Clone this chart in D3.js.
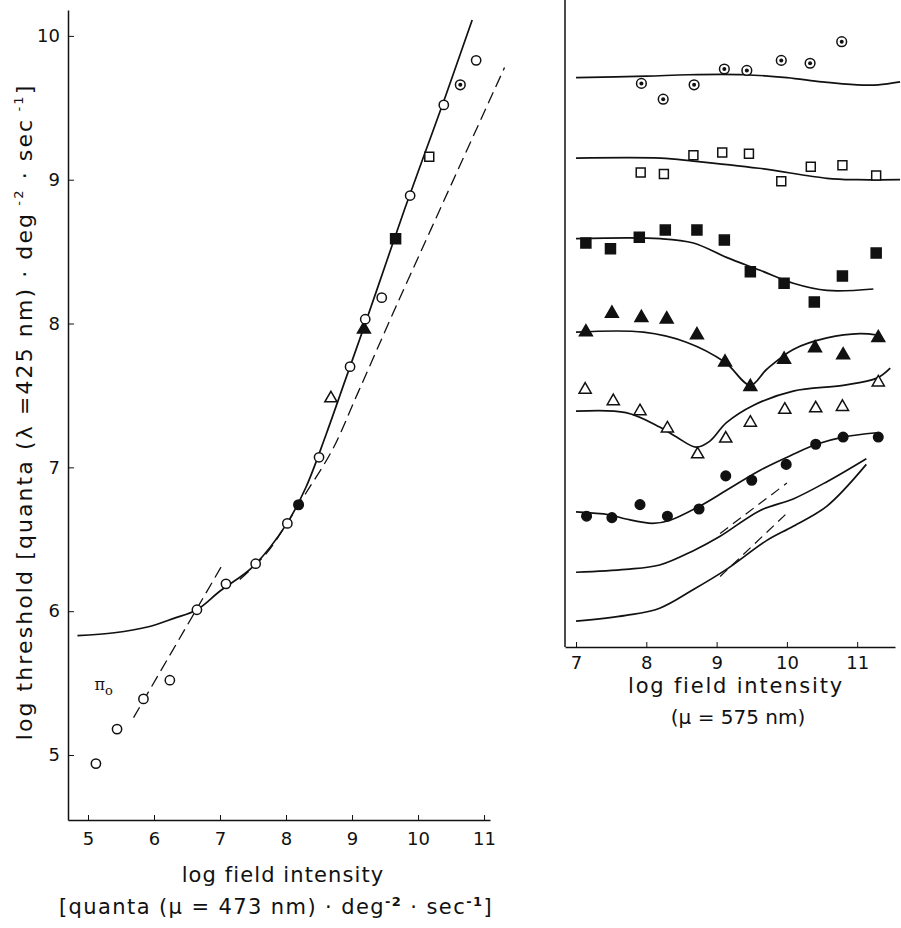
<!DOCTYPE html>
<html>
<head>
<meta charset="utf-8">
<script src="https://cdn.jsdelivr.net/npm/d3@7"></script>
<style>
  body { margin: 0; background: #fff; }
  svg { font-family: "DejaVu Sans", "Liberation Sans", Arial, sans-serif; }
</style>
</head>
<body>
<script>
// ---- data ----
const leftTicksX = [5, 6, 7, 8, 9, 10, 11];
const leftTicksY = [5, 6, 7, 8, 9, 10];
const rightTicksX = [7, 8, 9, 10, 11];

// left panel: measured thresholds (mark = which field condition)
const leftX = [5.12, 5.44, 5.84, 6.24, 6.65, 7.09, 7.54, 8.02, 8.19, 8.50, 8.68, 8.97, 9.18, 9.20, 9.45, 9.66, 9.88, 10.17, 10.39, 10.64, 10.88];
const leftY = [4.94, 5.18, 5.39, 5.52, 6.01, 6.19, 6.33, 6.61, 6.74, 7.07, 7.48, 7.70, 7.96, 8.03, 8.18, 8.59, 8.89, 9.16, 9.52, 9.66, 9.83];
const leftMark = ["circle", "circle", "circle", "circle", "circle", "circle", "circle", "circle", "disc", "circle", "tri",
  "circle", "ftri", "circle", "circle", "fsquare", "circle", "square", "circle", "dotcircle", "circle"];

// left panel: fitted curve, Weber asymptote and pi0 branch
const leftCurve = [[4.84, 5.83], [5.4, 5.85], [5.9, 5.89], [6.3, 5.95], [6.65, 6.01], [7.0, 6.14], [7.5, 6.31],
  [8.0, 6.60], [8.3, 6.86], [8.6, 7.22], [8.9, 7.61], [9.2, 8.0], [9.5, 8.4], [9.8, 8.8], [10.1, 9.18], [10.4, 9.56], [10.82, 10.11]];
const leftDashed = [[7.3, 6.22], [7.7, 6.40], [8.0, 6.60], [8.3, 6.82], [8.7, 7.12], [9.1, 7.53], [9.6, 8.05], [10.2, 8.66], [11.31, 9.78]];
const leftPiLine = [[5.69, 5.26], [7.02, 6.31]];

// right panel: six data series, offset vertically (arbitrary log units)
const rightSeriesMark = ["dotcircle", "square", "fsquare", "ftri", "tri", "disc"];
const rightSeriesX = [
  [7.93, 8.24, 8.68, 9.11, 9.43, 9.92, 10.33, 10.78],
  [7.92, 8.25, 8.67, 9.08, 9.46, 9.92, 10.34, 10.79, 11.27],
  [7.14, 7.49, 7.90, 8.27, 8.72, 9.11, 9.48, 9.96, 10.39, 10.79, 11.27],
  [7.14, 7.51, 7.93, 8.29, 8.72, 9.12, 9.48, 9.96, 10.40, 10.80, 11.30],
  [7.13, 7.53, 7.91, 8.30, 8.73, 9.13, 9.48, 9.97, 10.41, 10.79, 11.30],
  [7.15, 7.51, 7.91, 8.30, 8.75, 9.13, 9.50, 9.99, 10.41, 10.80, 11.30]
];
const rightSeriesY = [
  [3.92, 3.81, 3.91, 4.02, 4.01, 4.08, 4.06, 4.21],
  [3.30, 3.29, 3.42, 3.44, 3.43, 3.24, 3.34, 3.35, 3.28],
  [2.81, 2.77, 2.85, 2.90, 2.90, 2.83, 2.61, 2.53, 2.40, 2.58, 2.74],
  [2.19, 2.32, 2.29, 2.28, 2.17, 1.98, 1.81, 2.00, 2.08, 2.03, 2.15],
  [1.79, 1.71, 1.64, 1.52, 1.34, 1.45, 1.56, 1.65, 1.66, 1.67, 1.84],
  [0.91, 0.90, 0.99, 0.91, 0.96, 1.19, 1.16, 1.27, 1.41, 1.46, 1.46]
];
const rightCurves = [
  [[7.0, 3.96], [8.0, 3.97], [8.6, 3.98], [9.4, 3.98], [10.0, 3.96], [10.5, 3.93], [11.0, 3.91], [11.3, 3.91], [11.61, 3.93]],
  [[7.0, 3.40], [8.2, 3.40], [8.67, 3.38], [9.6, 3.33], [10.57, 3.26], [11.0, 3.25], [11.61, 3.25]],
  [[7.0, 2.84], [8.2, 2.84], [8.67, 2.81], [9.14, 2.71], [9.62, 2.62], [10.09, 2.53], [10.57, 2.48], [11.23, 2.49]],
  [[7.0, 2.19], [7.96, 2.19], [8.57, 2.12], [9.12, 1.98], [9.48, 1.82], [9.71, 1.93], [10.09, 2.07], [10.57, 2.15], [11.04, 2.18], [11.28, 2.17]],
  [[7.0, 1.64], [7.71, 1.63], [8.19, 1.53], [8.43, 1.46], [8.71, 1.39], [8.9, 1.43], [9.14, 1.56], [9.52, 1.68], [10.09, 1.78], [10.8, 1.82], [11.28, 1.87], [11.47, 1.94]],
  [[7.0, 0.94], [7.47, 0.92], [7.71, 0.89], [8.09, 0.86], [8.33, 0.88], [8.76, 0.98], [9.14, 1.09], [9.62, 1.23], [10.09, 1.34], [10.42, 1.41], [10.8, 1.46], [11.28, 1.49]],
  [[7.0, 0.52], [7.71, 0.54], [8.19, 0.57], [8.67, 0.67], [9.05, 0.77], [9.62, 0.95], [10.09, 1.03], [10.57, 1.15], [11.13, 1.31]],
  [[7.0, 0.18], [7.71, 0.22], [8.19, 0.27], [8.67, 0.40], [9.14, 0.54], [9.71, 0.74], [10.09, 0.84], [10.57, 0.98], [11.13, 1.27]]
];
const rightDashed = [
  [[9.05, 0.79], [10.0, 1.14]],
  [[9.05, 0.49], [10.02, 0.94]]
];

// ---- drawing ----
const W = 901, H = 928;
const svg = d3.select("body").append("svg")
  .attr("width", W)
  .attr("height", H);

// scales (ranges are the pixel frame of each panel)
const xL = d3.scaleLinear().domain([4.697, 11.09]).range([68, 490]);
const yL = d3.scaleLinear().domain([4.548, 10.18]).range([820, 10]);
const xR = d3.scaleLinear().domain([6.843, 11.538]).range([565, 895]);
const yR = d3.scaleLinear().domain([0, 4.5]).range([647, 0]);

const symbolOf = {
  circle: d3.symbol(d3.symbolCircle, 68),
  disc: d3.symbol(d3.symbolCircle, 72),
  dotcircle: d3.symbol(d3.symbolCircle, 74),
  square: d3.symbol(d3.symbolSquare, 80),
  fsquare: d3.symbol(d3.symbolSquare, 100),
  tri: d3.symbol(d3.symbolTriangle, 64),
  ftri: d3.symbol(d3.symbolTriangle, 72)
};
const filled = { disc: true, fsquare: true, ftri: true };

function drawMarks(g, pts) {
  const m = g.selectAll(null).data(pts).enter().append("g")
    .attr("transform", d => `translate(${d.x},${d.y})`);
  m.append("path")
    .attr("d", d => symbolOf[d.mark]())
    .attr("fill", d => filled[d.mark] ? "#111" : "#fff")
    .attr("stroke", "#111")
    .attr("stroke-width", 1.5);
  m.filter(d => d.mark === "dotcircle").append("circle")
    .attr("r", 2)
    .attr("fill", "#111");
}

const line = (xs, ys, curve) => d3.line()
  .x(d => xs(d[0]))
  .y(d => ys(d[1]))
  .curve(curve || d3.curveCatmullRom.alpha(0.5));

const fmt = d3.format("d");

// left panel axes
const left = svg.append("g");
left.append("g")
  .attr("transform", "translate(0,820)")
  .call(d3.axisBottom(xL).tickValues(leftTicksX).tickFormat(fmt).tickSizeInner(-5).tickSizeOuter(0).tickPadding(12))
  .call(g => g.selectAll("text").attr("font-size", 18).attr("font-family", "DejaVu Sans").attr("fill", "#111"));
left.append("g")
  .attr("transform", "translate(68,0)")
  .call(d3.axisLeft(yL).tickValues(leftTicksY).tickFormat(fmt).tickSizeInner(-6).tickSizeOuter(0).tickPadding(8))
  .call(g => g.selectAll("text").attr("font-size", 18).attr("font-family", "DejaVu Sans").attr("fill", "#111"));
left.selectAll(".domain").attr("stroke", "#111").attr("stroke-width", 1.5);
left.selectAll(".tick line").attr("stroke", "#111");

left.append("path")
  .attr("d", line(xL, yL)(leftCurve))
  .attr("fill", "none").attr("stroke", "#111").attr("stroke-width", 1.7);
left.append("path")
  .attr("d", line(xL, yL)(leftDashed))
  .attr("fill", "none").attr("stroke", "#111").attr("stroke-width", 1.3)
  .attr("stroke-dasharray", "12,6");
left.append("path")
  .attr("d", line(xL, yL, d3.curveLinear)(leftPiLine))
  .attr("fill", "none").attr("stroke", "#111").attr("stroke-width", 1.3)
  .attr("stroke-dasharray", "12,6");

drawMarks(left, leftX.map((v, i) => ({ x: xL(v), y: yL(leftY[i]), mark: leftMark[i] })));

const pi = left.append("text")
  .attr("x", xL(5.1)).attr("y", yL(5.45))
  .attr("font-family", "DejaVu Serif, serif")
  .attr("font-size", 16).attr("fill", "#111")
  .text("π");
pi.append("tspan").attr("dy", 5).attr("font-size", 13).text("o");

// left axis titles
left.append("text")
  .attr("x", 283).attr("y", 882)
  .attr("text-anchor", "middle").attr("font-size", 21).attr("letter-spacing", 1.1).attr("fill", "#111")
  .text("log field intensity");
const xt2 = left.append("text")
  .attr("x", 276).attr("y", 914)
  .attr("text-anchor", "middle").attr("font-size", 21).attr("letter-spacing", 1.4).attr("fill", "#111");
xt2.append("tspan").text("[quanta (μ = 473 nm) · deg");
xt2.append("tspan").attr("dy", -8).attr("font-size", 13).attr("font-weight", "bold").text("-2");
xt2.append("tspan").attr("dy", 8).text(" · sec");
xt2.append("tspan").attr("dy", -8).attr("font-size", 13).attr("font-weight", "bold").text("-1");
xt2.append("tspan").attr("dy", 8).text("]");

const yt = left.append("text")
  .attr("transform", "translate(32,412) rotate(-90)")
  .attr("text-anchor", "middle").attr("font-size", 22).attr("letter-spacing", 2.1).attr("fill", "#111");
yt.append("tspan").text("log threshold [quanta (λ =425 nm) · deg");
yt.append("tspan").attr("dy", -9).attr("font-size", 13).text(" -2");
yt.append("tspan").attr("dy", 9).text(" · sec");
yt.append("tspan").attr("dy", -9).attr("font-size", 13).text(" -1");
yt.append("tspan").attr("dy", 9).text("]");

// right panel
const right = svg.append("g");
right.append("g")
  .attr("transform", "translate(0,647)")
  .call(d3.axisBottom(xR).tickValues(rightTicksX).tickFormat(fmt).tickSizeInner(-5).tickSizeOuter(0).tickPadding(9))
  .call(g => g.selectAll("text").attr("font-size", 18).attr("font-family", "DejaVu Sans").attr("fill", "#111"));
right.append("line")
  .attr("x1", xR.range()[0]).attr("x2", xR.range()[0])
  .attr("y1", yR.range()[0]).attr("y2", yR.range()[1])
  .attr("stroke", "#111").attr("stroke-width", 1.5);
right.selectAll(".domain").attr("stroke", "#111").attr("stroke-width", 1.5);
right.selectAll(".tick line").attr("stroke", "#111");

rightCurves.forEach(c => {
  right.append("path")
    .attr("d", line(xR, yR)(c))
    .attr("fill", "none").attr("stroke", "#111").attr("stroke-width", 1.7);
});
rightDashed.forEach(c => {
  right.append("path")
    .attr("d", line(xR, yR, d3.curveLinear)(c))
    .attr("fill", "none").attr("stroke", "#111").attr("stroke-width", 1.2)
    .attr("stroke-dasharray", "10,6");
});
rightSeriesX.forEach((xs, s) => {
  drawMarks(right, xs.map((v, i) => ({ x: xR(v), y: yR(rightSeriesY[s][i]), mark: rightSeriesMark[s] })));
});

right.append("text")
  .attr("x", 736).attr("y", 693)
  .attr("text-anchor", "middle").attr("font-size", 21).attr("letter-spacing", 1.8).attr("fill", "#111")
  .text("log field intensity");
right.append("text")
  .attr("x", 738).attr("y", 724)
  .attr("text-anchor", "middle").attr("font-size", 20).attr("fill", "#111")
  .text("(μ = 575 nm)");
</script>
</body>
</html>
